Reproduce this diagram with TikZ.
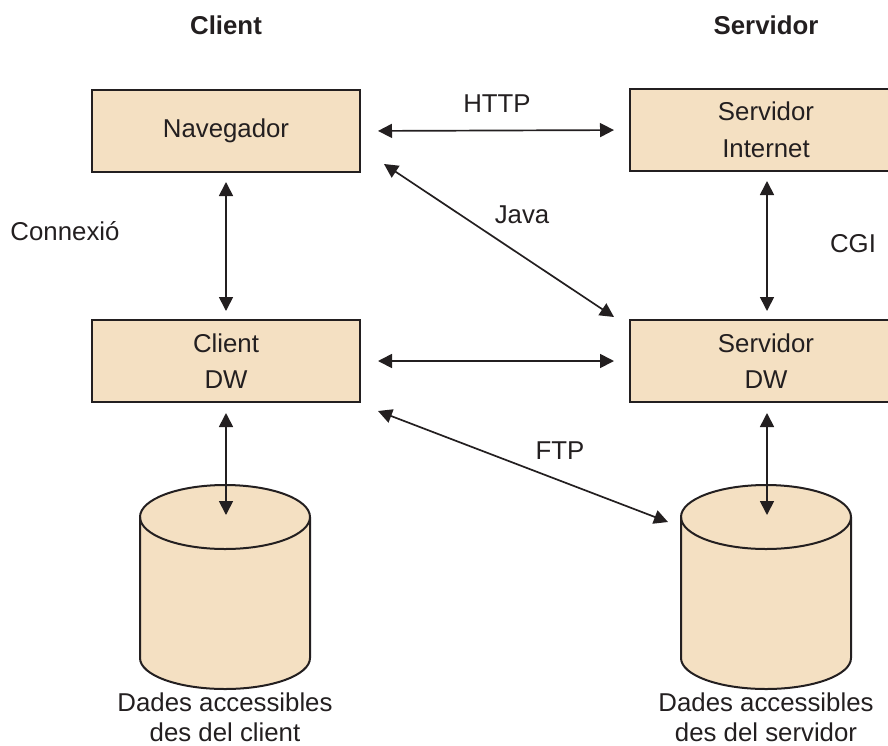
\documentclass[tikz,border=0pt]{standalone}
\usepackage{fontspec}
\setmainfont{Liberation Sans}
\usetikzlibrary{arrows.meta}
\definecolor{ink}{HTML}{231F20}
\definecolor{boxfill}{HTML}{F4E0C2}
\tikzset{
  x=1pt, y=1pt,
  every node/.style={text=ink, font=\fontsize{25.8}{36.5}\selectfont},
  block/.style={draw=ink, line width=2pt, fill=boxfill, minimum width=268pt,
    minimum height=82pt, inner sep=0pt, align=center},
  link/.style={draw=ink, line width=1.7pt, {Triangle[length=14pt,width=14pt]}-{Triangle[length=14pt,width=14pt]}},
  lbl/.style={inner sep=0pt},
  dbline/.style={inner sep=0pt, anchor=base},
  drum/.style={draw=ink, line width=2pt, line join=round},
}
\begin{document}
\begin{tikzpicture}
\useasboundingbox (0,0) rectangle (888,-745);
\clip (0,0) rectangle (888,-745);

% column titles
\node[lbl, font=\fontsize{25.8}{30}\selectfont\bfseries] (tc) at (226,-25) {Client};
\node[lbl, font=\fontsize{25.8}{30}\selectfont\bfseries] (ts) at (766,-25) {Servidor};

% boxes
\node[block] (nav) at (226,-131) {Navegador};
\node[block, minimum width=272pt] (srvI) at (766,-130) {Servidor\\Internet};
\node[block] (cdw) at (226,-361) {Client\\DW};
\node[block, minimum width=272pt] (sdw) at (766,-361) {Servidor\\DW};

% data stores
\fill[boxfill] (140,-517) -- (140,-658) arc (180:360:85 and 31) -- (310,-517) arc (0:180:85 and 32) -- cycle;
\draw[drum] (140,-517) -- (140,-658) arc (180:360:85 and 31) -- (310,-517);
\draw[drum] (225,-517) ellipse (85 and 32);
\coordinate (dbc) at (226,-517);

\fill[boxfill] (681,-517) -- (681,-658) arc (180:360:85 and 31) -- (851,-517) arc (0:180:85 and 32) -- cycle;
\draw[drum] (681,-517) -- (681,-658) arc (180:360:85 and 31) -- (851,-517);
\draw[drum] (766,-517) ellipse (85 and 32);
\coordinate (dbs) at (767,-517);
\coordinate (dbsw) at (668,-522);

% data store captions
\node[dbline] (lc1) at (225,-711) {Dades accessibles};
\node[dbline] (lc2) at (225,-741) {des del client};
\node[dbline] (ls1) at (766,-711) {Dades accessibles};
\node[dbline] (ls2) at (766,-741) {des del servidor};

% connectors
\draw[link, shorten <=17pt, shorten >=15pt] (nav.east) -- (srvI.west);
\draw[link] ([shift={(23,9)}]nav.south east) -- ([shift={(-15,2)}]sdw.north west);
\draw[link, shorten <=9pt, shorten >=8pt] (nav.south) -- (cdw.north);
\draw[link, shorten <=9pt, shorten >=8pt] ([xshift=1pt]srvI.south) -- ([xshift=1pt]sdw.north);
\draw[link, shorten <=17pt, shorten >=15pt] (cdw.east) -- (sdw.west);
\draw[link] ([shift={(17,-8)}]cdw.south east) -- (dbsw);
\draw[link, shorten <=10pt, shorten >=2pt] (cdw.south) -- (dbc);
\draw[link, shorten <=10pt, shorten >=2pt] ([xshift=1pt]sdw.south) -- (dbs);

% connector labels
\node[lbl] (http) at (497,-104) {HTTP};
\node[lbl] (java) at (522,-215) {Java};
\node[lbl] (conn) at (65,-231) {Connexió};
\node[lbl] (cgi) at (853,-244) {CGI};
\node[lbl] (ftp) at (560,-451) {FTP};
\end{tikzpicture}
\end{document}
